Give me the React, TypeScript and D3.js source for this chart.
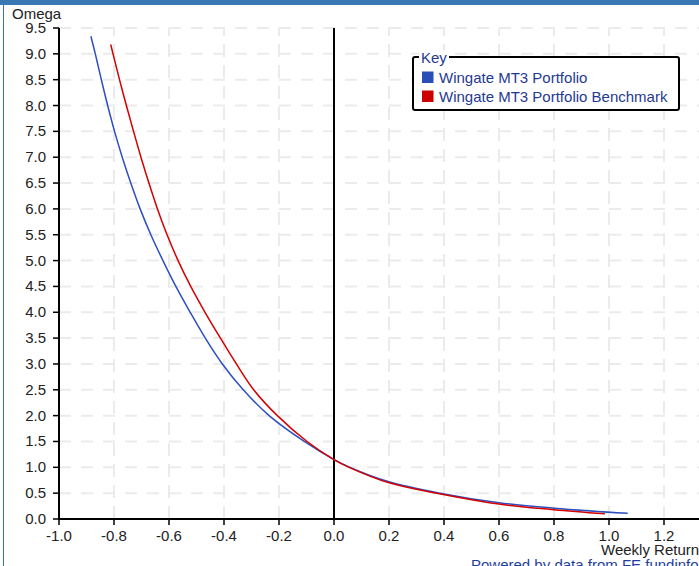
import React from "react";
import * as d3 from "d3";

const portfolioX = [-0.884, -0.868, -0.846, -0.823, -0.798, -0.770, -0.739, -0.705, -0.666, -0.622, -0.575, -0.523, -0.468, -0.406, -0.330, -0.236, -0.108, 0, 0.058, 0.2, 0.385, 0.6, 0.8, 1.068];
const portfolioY = [9.34, 9.0, 8.5, 8.0, 7.5, 7.0, 6.5, 6.0, 5.5, 5.0, 4.5, 4.0, 3.5, 3.0, 2.5, 2.0, 1.5, 1.15, 1.0, 0.72, 0.5, 0.315, 0.21, 0.11];
const benchmarkX = [-0.812, -0.780, -0.755, -0.729, -0.702, -0.673, -0.642, -0.607, -0.567, -0.521, -0.469, -0.413, -0.355, -0.292, -0.206, -0.098, 0, 0.055, 0.2, 0.373, 0.6, 0.8, 0.985];
const benchmarkY = [9.18, 8.5, 8.0, 7.5, 7.0, 6.5, 6.0, 5.5, 5.0, 4.5, 4.0, 3.5, 3.0, 2.5, 2.0, 1.5, 1.15, 1.0, 0.7, 0.5, 0.29, 0.18, 0.1];
const xTicks = [-1.0, -0.8, -0.6, -0.4, -0.2, 0.0, 0.2, 0.4, 0.6, 0.8, 1.0, 1.2];
const yTicks = [0, 0.5, 1, 1.5, 2, 2.5, 3, 3.5, 4, 4.5, 5, 5.5, 6, 6.5, 7, 7.5, 8, 8.5, 9, 9.5];
const seriesNames = ["Wingate MT3 Portfolio", "Wingate MT3 Portfolio Benchmark"];
const seriesColors = ["#2d4fbf", "#d40000"];
const swatchColors = ["#2a4db8", "#cc0000"];

export default function App() {
  const W = 699, H = 566;
  const x = d3.scaleLinear().domain([-1, 0]).range([59, 334]);
  const y = d3.scaleLinear().domain([0, 9.5]).range([519, 28]);
  const line = d3
    .line<[number, number]>()
    .x((d) => x(d[0]))
    .y((d) => y(d[1]))
    .curve(d3.curveCatmullRom.alpha(0.5));
  const p1 = line(portfolioX.map((v, i) => [v, portfolioY[i]]) as [number, number][]) || "";
  const p2 = line(benchmarkX.map((v, i) => [v, benchmarkY[i]]) as [number, number][]) || "";
  const gridX = d3.range(-0.8, 1.41, 0.2).map((v) => Math.round(v * 10) / 10);
  const font = "Arial, 'Liberation Sans', sans-serif";
  const gridColor = "#ebebeb";
  const fs = 15;
  return (
    <svg width={W} height={H} style={{ position: "absolute", left: 0, top: 0 }} fontFamily={font}>
      <rect x={0} y={0} width={W} height={H} fill="#fff" />
      <rect x={0} y={0} width={W} height={5} fill="#3a78b5" />
      <line x1={3.5} x2={3.5} y1={5} y2={H} stroke="#3a78b5" strokeWidth={1} />
      {yTicks.filter((t) => t > 0).map((t) => (
        <line key={"gy" + t} x1={x(-1)} x2={W} y1={y(t)} y2={y(t)} stroke={gridColor} strokeWidth={2} strokeDasharray="12,10" />
      ))}
      {gridX.filter((t) => t !== 0).map((t) => (
        <line key={"gx" + t} x1={x(t)} x2={x(t)} y1={y(0)} y2={y(9.5)} stroke={gridColor} strokeWidth={2} strokeDasharray="13,8" />
      ))}
      <line x1={x(-1)} x2={x(-1)} y1={y(9.5)} y2={y(0) + 1} stroke="#000" strokeWidth={2} />
      <line x1={x(0)} x2={x(0)} y1={y(9.5)} y2={y(0)} stroke="#000" strokeWidth={2} />
      <line x1={x(-1) - 1} x2={W} y1={y(0)} y2={y(0)} stroke="#000" strokeWidth={2} />
      {yTicks.map((t) => (
        <g key={"yt" + t}>
          <line x1={x(-1) - 6} x2={x(-1)} y1={y(t)} y2={y(t)} stroke="#000" strokeWidth={1.5} />
          <text x={46} y={y(t) + 5} textAnchor="end" fontSize={fs} fill="#222">{t.toFixed(1)}</text>
        </g>
      ))}
      {xTicks.map((t) => (
        <g key={"xt" + t}>
          <line x1={x(t)} x2={x(t)} y1={y(0)} y2={y(0) + 6} stroke="#000" strokeWidth={1.5} />
          <text x={x(t)} y={541} textAnchor="middle" fontSize={fs} fill="#222">{t.toFixed(1)}</text>
        </g>
      ))}
      <text x={12} y={19} fontSize={fs} fill="#222">Omega</text>
      <text x={601} y={555} fontSize={fs} fill="#222">Weekly Return</text>
      <text x={471} y={570} fontSize={fs} fill="#1f3fa0">Powered by data from FE fundinfo</text>
      <path d={p1} fill="none" stroke={seriesColors[0]} strokeWidth={1.5} />
      <path d={p2} fill="none" stroke={seriesColors[1]} strokeWidth={1.5} />
      <rect x={413} y={57} width={266} height={53} rx={2} fill="#fff" stroke="#000" strokeWidth={2} />
      <rect x={419} y={50} width={30} height={14} fill="#fff" />
      <text x={421} y={63} fontSize={fs} fill="#1f3a93">Key</text>
      {seriesNames.map((n, i) => (
        <g key={n}>
          <rect x={422} y={71.5 + i * 19} width={11.5} height={11.5} fill={swatchColors[i]} />
          <text x={439} y={83 + i * 19} fontSize={fs} fill="#1f3a93">{n}</text>
        </g>
      ))}
    </svg>
  );
}
